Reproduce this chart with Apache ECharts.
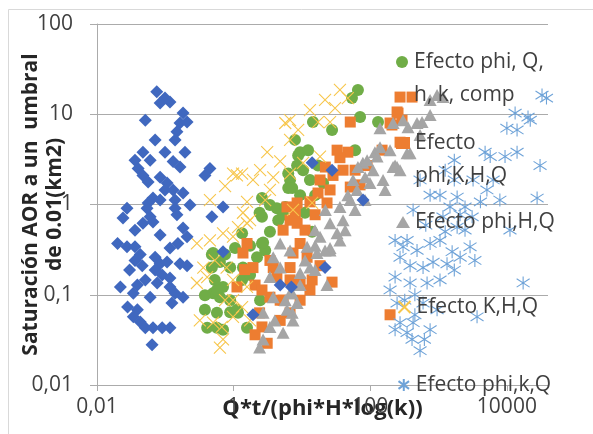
<!DOCTYPE html>
<html><head><meta charset="utf-8">
<script src="https://cdn.jsdelivr.net/npm/echarts@6/dist/echarts.min.js"></script>
<style>html,body{margin:0;padding:0;background:#fff}#c{width:593px;height:434px}</style>
</head><body><div id="c"></div>
<script>
const xTickValues = [0.01, 1, 100, 10000];
const yTickValues = [0.01, 0.1, 1, 10, 100];
const seriesNames = ['Efecto phi, Q, h, k, comp', 'Efecto phi,K,H,Q', 'Efecto phi,H,Q', 'Efecto K,H,Q', 'Efecto phi,k,Q', 'Serie 1'];
const legendText = {
  'Efecto phi, Q, h, k, comp': '\nEfecto phi, Q,\nh, k, comp',
  'Efecto phi,K,H,Q': '\nEfecto\nphi,K,H,Q'
};
const xAxisTitle = 'Q*t/(phi*H*log(k))';
const yAxisTitle = 'Saturación AOR a un  umbral\nde 0.01(km2)';

const greenCircles = [[8.8,3.5],[6.3,2.2],[6.7,1.87],[6.3,1.52],[2.6,1.18],[3.4,0.99],[4.3,0.91],[5.7,0.94],[2.6,0.73],[4.5,0.67],[1.33,0.48],[2.6,0.37],[2.9,0.31],[2.2,0.26],[0.48,0.28],[0.63,0.23],[0.48,0.2],[0.89,0.2],[0.7,0.122],[0.5,0.104],[0.63,0.094],[1.33,0.146],[1.74,0.166],[0.38,0.068],[0.57,0.063],[0.89,0.064],[1.16,0.063],[0.41,0.043],[0.57,0.043],[0.7,0.041],[1.57,0.043],[66,18.6],[54,15.1],[71,9.3],[14.5,8.2],[27.6,6.7],[130,8.2],[9.4,3.8],[12.3,4.0],[60,4.0],[8.5,2.7],[10.4,2.4],[13.1,1.87],[7.2,1.52],[20.4,1.73],[11.1,0.81],[14.1,0.5],[0.5,0.29],[0.57,0.113],[1.12,0.068],[2.7,0.38],[2.4,0.81],[1.37,0.2],[0.75,0.28],[1.05,0.33],[1.74,0.35],[3.4,0.5],[5.3,0.77],[9.4,1.27],[15.6,1.27],[17.2,2.7],[7.9,5.2],[0.53,0.146],[0.89,0.087],[0.38,0.099],[2.44,0.087]];

const orangeSquares = [[1.57,0.37],[1.37,0.29],[1.92,0.2],[1.12,0.122],[2.06,0.128],[6.7,0.67],[6.05,0.94],[3.8,0.2],[4.3,0.157],[3.4,0.094],[6.7,0.146],[2.4,0.063],[2.6,0.044],[3.1,0.029],[5.3,0.087],[6.7,0.063],[273,15.5],[247,10.6],[292,8.6],[195,8.0],[273,4.9],[51,8.2],[47,3.8],[36,3.3],[22,2.6],[18.4,1.87],[28.5,2.1],[51,1.56],[40,2.4],[17.2,1.34],[23.3,1.04],[13.1,1.07],[8.5,1.04],[8.5,0.62],[9.4,0.37],[7.4,0.29],[11.9,0.26],[6.7,0.2],[14.1,0.146],[27.6,0.138],[9.4,0.138],[90,2.7],[149,4.0],[409,15.5],[255,10.3],[208,7.6],[195,0.06],[5.3,0.52],[8,0.8],[2.6,0.113],[4.8,0.087],[9.4,0.087],[13.1,0.113],[18.4,0.21],[11.1,0.52],[15.6,0.77],[25.8,1.45],[60,2.4],[71,1.65],[32.7,4.0],[4.8,0.052],[2.06,0.036],[3.4,0.24],[1.45,0.19]];

const grayTriangles = [[357,7.2],[216,2.6],[117,3.8],[78,2.9],[154,1.87],[99,1.73],[64,1.45],[47,1.27],[36,0.94],[56,1.87],[40,0.67],[25.8,0.62],[32.7,0.48],[25.8,0.33],[18.4,0.44],[16.6,0.29],[11.9,0.34],[13.1,0.2],[9.4,0.174],[23.3,0.128],[7.2,0.104],[8.5,0.081],[7.2,0.063],[139,7.0],[4.8,0.37],[3.8,0.26],[6.7,0.31],[4.8,0.2],[3.4,0.157],[6.7,0.104],[3.8,0.094],[2.7,0.063],[3.4,0.044],[2.7,0.032],[6.05,0.068],[5.3,0.038],[7.4,0.052],[951,16.3],[1164,15.5],[752,9.8],[484,8.0],[573,8.2],[383,3.7],[247,2.6],[302,8.6],[216,8.0],[346,3.7],[231,2.7],[139,4.3],[126,3.4],[90,3.1],[66,2.6],[110,2.4],[84,2.0],[25.8,0.31],[2.4,0.026],[51,1.12],[22,0.87],[15.5,0.52],[4.0,0.052],[5.7,0.087],[9.4,0.128],[15.6,0.188],[21.8,0.31],[43,0.52],[60,0.87],[84,1.12],[165,1.45],[273,2.4],[195,4.0],[536,5.9],[752,14.4],[15.6,0.35],[36,0.4],[11.1,0.24]];

const yellowCrosses = [[5.7,8.0],[3.1,3.8],[1.12,2.1],[1.92,1.87],[1.57,1.07],[1.37,0.81],[1.74,0.67],[0.7,0.48],[0.98,0.44],[0.29,0.37],[0.45,0.4],[0.41,0.157],[0.29,0.135],[0.98,0.146],[1.57,0.122],[0.98,0.087],[0.5,0.049],[0.7,0.032],[0.63,0.026],[0.98,0.057],[1.33,0.073],[4.8,3.0],[6.7,2.2],[3.4,1.45],[3.8,2.0],[36,18.6],[47,15.1],[30.5,11.7],[25.8,8.2],[8.8,6.7],[17.2,8.2],[6.7,8.6],[18.4,3.4],[10.4,2.9],[14.1,1.04],[7.4,0.87],[1.33,2.2],[1.57,0.62],[1.16,0.56],[0.79,0.2],[0.36,0.2],[0.67,0.044],[0.98,2.2],[0.45,1.12],[0.75,1.6],[2.44,2.4],[6.7,5.2],[13.1,11.1],[21.8,14.4],[0.53,0.24],[0.75,0.087],[1.74,0.052],[0.32,0.052],[2.9,1.12]];

const blueAsterisks = [[32700,16.3],[38000,15.1],[20400,9.3],[13200,10.3],[10000,7.0],[14100,6.7],[9400,3.4],[14100,3.8],[5700,3.4],[4800,3.8],[30600,2.7],[3200,1.87],[6300,1.87],[5100,1.45],[4100,1.07],[1870,1.21],[1470,0.94],[2440,0.94],[27700,1.18],[1160,0.73],[3100,0.73],[1870,0.56],[424,0.87],[346,0.4],[484,0.31],[752,0.37],[1050,0.4],[1580,0.3],[2070,0.26],[2890,0.34],[273,0.26],[383,0.21],[593,0.2],[830,0.23],[1330,0.22],[231,0.157],[383,0.135],[679,0.135],[17300,0.135],[247,0.081],[593,0.081],[951,0.068],[273,0.049],[424,0.049],[346,0.038],[752,0.041],[536,0.024],[3660,0.057],[302,0.34],[195,0.113],[409,0.032],[1700,1.87],[1050,1.27],[650,0.59],[2065,0.77],[1250,0.5],[450,0.1],[536,1.87],[752,1.27],[1250,2.4],[1700,3.1],[2440,0.52],[3400,0.24],[7900,1.12],[231,0.4],[320,0.087],[450,0.06],[231,0.041],[620,0.032],[1050,0.146],[1700,0.188],[11100,0.52],[22000,8.6]];

const blueDiamonds = [[0.075,17.8],[0.099,15.1],[0.117,13.7],[0.084,13.3],[0.051,8.6],[0.182,10.3],[0.164,8.0],[0.208,8.2],[0.148,6.4],[0.047,3.8],[0.099,3.8],[0.194,3.8],[0.036,3.1],[0.13,3.0],[0.164,2.6],[0.04,2.5],[0.047,2.1],[0.084,2.0],[0.056,1.78],[0.106,1.73],[0.099,1.45],[0.13,1.45],[0.182,1.34],[0.066,1.18],[0.056,1.04],[0.054,0.91],[0.139,1.12],[0.139,0.91],[0.0275,0.91],[0.024,0.71],[0.06,0.73],[0.047,0.62],[0.066,0.64],[0.148,0.77],[0.182,0.55],[0.208,0.44],[0.153,0.37],[0.117,0.33],[0.02,0.37],[0.0275,0.34],[0.036,0.34],[0.043,0.28],[0.036,0.24],[0.046,0.21],[0.071,0.26],[0.084,0.22],[0.106,0.23],[0.071,0.188],[0.09,0.166],[0.117,0.153],[0.164,0.22],[0.208,0.21],[0.022,0.122],[0.039,0.128],[0.034,0.104],[0.06,0.094],[0.076,0.135],[0.117,0.122],[0.139,0.104],[0.182,0.094],[0.125,0.081],[0.028,0.073],[0.039,0.068],[0.034,0.057],[0.043,0.05],[0.051,0.043],[0.066,0.043],[0.09,0.043],[0.117,0.043],[0.064,0.028],[0.38,2.1],[0.45,2.5],[0.7,0.94],[0.48,0.73],[0.7,0.3],[1.92,0.06],[4.8,0.128],[7.0,0.122],[14.1,2.9],[27.6,2.4],[78.5,1.12],[21.8,0.2],[0.06,3.1],[0.084,1.12],[0.036,0.52],[0.084,0.46],[0.051,0.146],[0.03,0.188],[0.23,0.99],[0.071,5.2],[0.139,5.2]];

const FONT = 'Open Sans';
function fmtNum(v) {
  const n = Number(Number(v).toPrecision(6));
  return String(n).replace('.', ',');
}
const gridColor = '#ABABAB';

const legendTops = [12.5, 93.5, 205.5, 290.5, 368.5];
const legends = legendTops.map((t, i) => ({
  data: [seriesNames[i]],
  top: t, left: 396,
  orient: 'vertical', padding: 0,
  itemWidth: 14, itemHeight: 12,
  selectedMode: false,
  formatter: name => legendText[name] || name,
  textStyle: { fontFamily: FONT, fontSize: 21, color: '#404040', lineHeight: 33 }
}));

const chart = echarts.init(document.getElementById('c'), null, { renderer: 'canvas' });
chart.setOption({
  animation: false,
  backgroundColor: '#ffffff',
  graphic: [{
    type: 'rect', silent: true, z: -10,
    shape: { x: 8.5, y: 9.5, width: 620, height: 460 },
    style: { fill: 'none', stroke: '#D9D9D9', lineWidth: 1 }
  }],
  grid: { left: 97, top: 24, right: 45, bottom: 49, containLabel: false, outerBoundsMode: 'none' },
  legend: legends,
  xAxis: {
    type: 'log', logBase: 100, min: 0.01, max: 40000,
    axisLine: { show: true, lineStyle: { color: gridColor, width: 1 } },
    axisTick: { show: true, length: 6, customValues: xTickValues, lineStyle: { color: gridColor } },
    minorTick: { show: false },
    splitLine: { show: false },
    axisLabel: { customValues: xTickValues, formatter: fmtNum, fontFamily: FONT, fontSize: 21, color: '#404040', margin: 12 },
    name: xAxisTitle, nameLocation: 'middle', nameGap: 13, nameMoveOverlap: false,
    nameTextStyle: { fontFamily: FONT, fontSize: 22, fontWeight: 'bold', color: '#262626' }
  },
  yAxis: {
    type: 'log', logBase: 10, min: 0.01, max: 100,
    axisLine: { show: true, lineStyle: { color: gridColor, width: 1 } },
    axisTick: { show: true, length: 7, lineStyle: { color: gridColor } },
    minorTick: { show: false },
    splitLine: { show: true, lineStyle: { color: gridColor, width: 1 } },
    axisLabel: { formatter: fmtNum, fontFamily: FONT, fontSize: 21, color: '#404040', margin: 24 },
    name: yAxisTitle, nameLocation: 'middle', nameRotate: 90, nameGap: 30, nameMoveOverlap: false,
    nameTextStyle: { fontFamily: FONT, fontSize: 21, fontWeight: 'bold', color: '#262626', lineHeight: 24 }
  },
  series: [
    { name: seriesNames[0], type: 'scatter', data: greenCircles, symbol: 'circle', symbolSize: 12,
      itemStyle: { color: '#70AD47', opacity: 1 } },
    { name: seriesNames[1], type: 'scatter', data: orangeSquares, symbol: 'rect', symbolSize: 11,
      itemStyle: { color: '#ED7D31', opacity: 1 } },
    { name: seriesNames[2], type: 'scatter', data: grayTriangles, symbol: 'triangle', symbolSize: [13, 12],
      itemStyle: { color: '#A5A5A5', opacity: 1 } },
    { name: seriesNames[3], type: 'scatter', data: yellowCrosses, symbol: 'path://M0,0L10,10M10,0L0,10', symbolSize: 12,
      itemStyle: { color: 'none', borderColor: '#F7C64B', borderWidth: 1.1, opacity: 1 } },
    { name: seriesNames[4], type: 'scatter', data: blueAsterisks, symbol: 'path://M5,0L5,10M0.6,1.8L9.4,8.2M0.6,8.2L9.4,1.8', symbolSize: 13,
      itemStyle: { color: 'none', borderColor: '#6FA3D8', borderWidth: 1.1, opacity: 1 } },
    { name: seriesNames[5], type: 'scatter', data: blueDiamonds, symbol: 'diamond', symbolSize: 13,
      itemStyle: { color: '#4068BF', opacity: 1 } }
  ]
});
</script>
</body></html>
